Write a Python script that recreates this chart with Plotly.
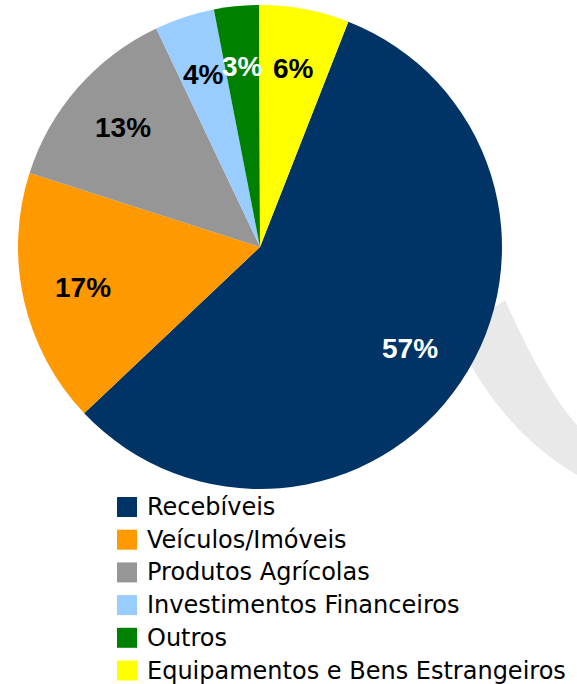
import math
import plotly.graph_objects as go

categories = ["Recebíveis", "Veículos/Imóveis", "Produtos Agrícolas",
              "Investimentos Financeiros", "Outros", "Equipamentos e Bens Estrangeiros"]
values = [57, 17, 13, 4, 3, 6]
colors = ["#003366", "#FF9900", "#969696", "#99CCFF", "#008000", "#FFFF00"]
label_colors = ["#FFFFFF", "#000000", "#000000", "#000000", "#FFFFFF", "#000000"]

W, H = 577, 684
cx, cy, R = 260, 247, 242
start_angle = 21.4  # degrees clockwise from 12 o'clock

fig = go.Figure()
fig.add_trace(go.Pie(
    labels=categories,
    values=values,
    sort=False,
    direction="clockwise",
    rotation=start_angle,
    marker=dict(colors=colors, line=dict(width=0)),
    textinfo="none",
    showlegend=False,
    hoverinfo="label+percent",
    domain=dict(x=[(cx - R) / W, (cx + R) / W], y=[1 - (cy + R) / H, 1 - (cy - R) / H]),
))

# percentage labels placed at each slice's mid-angle
total = sum(values)
acc = 0.0
for v, col in zip(values, label_colors):
    mid = start_angle + 360.0 * (acc + v / 2) / total
    acc += v
    rr = 0.75 * R
    px = cx + rr * math.sin(math.radians(mid))
    py = cy - rr * math.cos(math.radians(mid))
    fig.add_annotation(xref="paper", yref="paper", x=px / W, y=1 - py / H,
                       xanchor="center", yanchor="middle", showarrow=False,
                       text=f"{round(100 * v / total)}%",
                       font=dict(family="Liberation Sans", size=28, color=col, weight="bold"))

# decorative shadow swoosh on the right
fig.add_shape(type="path", xref="paper", yref="paper", layer="below",
              path="M {:.4f},{:.4f} Q {:.4f},{:.4f} {:.4f},{:.4f} L {:.4f},{:.4f} Q {:.4f},{:.4f} {:.4f},{:.4f} Z".format(
                  505 / W, 1 - 300 / H, 545 / W, 1 - 390 / H, 577 / W, 1 - 425 / H,
                  577 / W, 1 - 475 / H, 500 / W, 1 - 430 / H, 455 / W, 1 - 335 / H),
              fillcolor="rgba(200,200,200,0.4)", line=dict(width=0))

# legend drawn manually
row0, gap = 507, 32.7
for i, (name, col) in enumerate(zip(categories, colors)):
    yc = row0 + i * gap
    fig.add_shape(type="rect", xref="paper", yref="paper",
                  x0=117 / W, x1=137 / W, y0=1 - (yc + 10) / H, y1=1 - (yc - 10) / H,
                  fillcolor=col, line=dict(width=0))
    fig.add_annotation(xref="paper", yref="paper", x=145 / W, y=1 - yc / H,
                       xanchor="left", yanchor="middle", text=name, showarrow=False,
                       font=dict(family="DejaVu Sans", size=24, color="#000000"))

fig.update_layout(
    width=W, height=H,
    margin=dict(l=0, r=0, t=0, b=0),
    paper_bgcolor="white", plot_bgcolor="white",
)
fig.write_html("out.html", config={"displayModeBar": False},
               post_script="document.body.style.margin='0px';")
